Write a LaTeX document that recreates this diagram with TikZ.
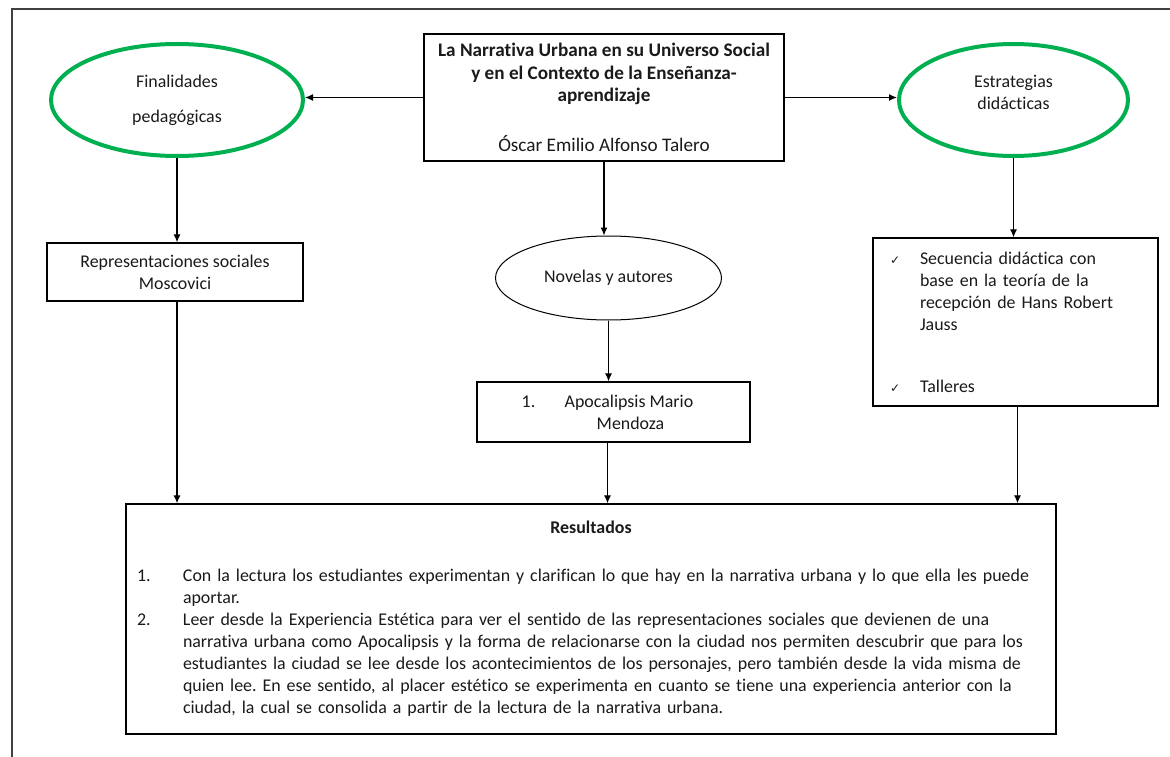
\documentclass[tikz,border=0pt]{standalone}
\usepackage{fontspec}
\setmainfont{Carlito}[Ligatures=NoCommon]
\newfontfamily\symfont{DejaVu Sans}
\usetikzlibrary{shapes.geometric,arrows.meta}
\definecolor{ovalgreen}{HTML}{00B050}
\definecolor{inktext}{HTML}{1A1A1A}
\setlength\parindent{0pt}
\frenchspacing
\begin{document}
\begin{tikzpicture}[x=1pt,y=-1pt,
  every node/.style={font=\fontsize{17.9}{22}\selectfont, text=inktext},
  box/.style={draw=black, line width=1.3pt, rectangle, inner sep=0pt, align=center},
  greenoval/.style={draw=ovalgreen, line width=4pt, ellipse, inner sep=0pt, align=center},
  plainoval/.style={draw=black, line width=1pt, ellipse, inner sep=0pt, align=center},
  link/.style={line width=1.2pt, -{Latex[length=8pt,width=7pt]}}]

% canvas and open frame
\fill[white] (0,0) rectangle (1170,757);
\useasboundingbox (0,0) rectangle (1170,757);
\draw[line width=1.5pt, black!75] (1170,9) -- (12,9) -- (12,757);

% central title
\node[box, minimum width=360pt, minimum height=127pt, font=\fontsize{19.2}{22.5}\selectfont] (title) at (604,97.5)
  {\bfseries La Narrativa Urbana en su Universo Social\\
   \bfseries y en el Contexto de la Enseñanza-\\
   \bfseries aprendizaje\\[27pt]
   \mdseries Óscar Emilio Alfonso Talero};

% green ovals
\node[greenoval, minimum width=252pt, minimum height=112pt] (aims) at (177,100)
  {Finalidades\\[13pt]pedagógicas};
\node[greenoval, minimum width=229pt, minimum height=112pt] (strategies) at (1013.5,100)
  {Estrategias\\didácticas\\[-6pt]\mbox{}};

% left branch
\node[box, minimum width=256pt, minimum height=58pt] (repr) at (175,272)
  {Representaciones sociales\\Moscovici};

% middle branch
\node[plainoval, minimum width=226pt, minimum height=84pt] (novels) at (608.5,278)
  {Novelas y autores};
\node[box, minimum width=273pt, minimum height=60pt, align=left] (apoc) at (613.5,412)
  {\makebox[43pt][l]{1.}Apocalipsis Mario\hspace*{12pt}\\\hspace*{75pt}Mendoza};

% right branch
\node[box, text width=251pt, inner xsep=17pt, minimum height=168pt, align=left] (tasks) at (1015.5,322)
  {\makebox[30pt][l]{\symfont\fontsize{12}{22}\selectfont ✓}Secuencia didáctica con\\
   \hspace*{30pt}base en la teoría de la\\
   \hspace*{30pt}recepción de Hans Robert\\
   \hspace*{30pt}Jauss\\[40pt]
   \makebox[30pt][l]{\symfont\fontsize{12}{22}\selectfont ✓}Talleres};

% results
\node[box, text width=908pt, inner xsep=11pt, minimum height=230pt, align=left] (results) at (591,619)
  {{\centering\bfseries Resultados\par}\vspace{26pt}
   \makebox[46pt][l]{1.}Con la lectura los estudiantes experimentan y clarifican lo que hay en la narrativa urbana y lo que ella les puede\\
   \hspace*{46pt}aportar.\\
   \makebox[46pt][l]{2.}Leer desde la Experiencia Estética para ver el sentido de las representaciones sociales que devienen de una\\
   \hspace*{46pt}narrativa urbana como Apocalipsis y la forma de relacionarse con la ciudad nos permiten descubrir que para los\\
   \hspace*{46pt}estudiantes la ciudad se lee desde los acontecimientos de los personajes, pero también desde la vida misma de\\
   \hspace*{46pt}quien lee. En ese sentido, al placer estético se experimenta en cuanto se tiene una experiencia anterior con la\\
   \hspace*{46pt}ciudad, la cual se consolida a partir de la lectura de la narrativa urbana.};

% connectors
\draw[link] (title.west) -- (title.west -| aims.east);
\draw[link] (title.east) -- (title.east -| strategies.west);
\draw[link] (title.south) -- (title.south |- novels.north);
\draw[link] (novels.south) -- (novels.south |- apoc.north);
\draw[link] (aims.south) -- (aims.south |- repr.north);
\draw[link] (strategies.south) -- (strategies.south |- tasks.north);
\draw[link] ([xshift=2pt]repr.south) -- ([xshift=2pt]repr.south |- results.north);
\draw[link] ([xshift=-6pt]apoc.south) -- ([xshift=-6pt]apoc.south |- results.north);
\draw[link] ([xshift=2pt]tasks.south) -- ([xshift=2pt]tasks.south |- results.north);
\end{tikzpicture}
\end{document}
